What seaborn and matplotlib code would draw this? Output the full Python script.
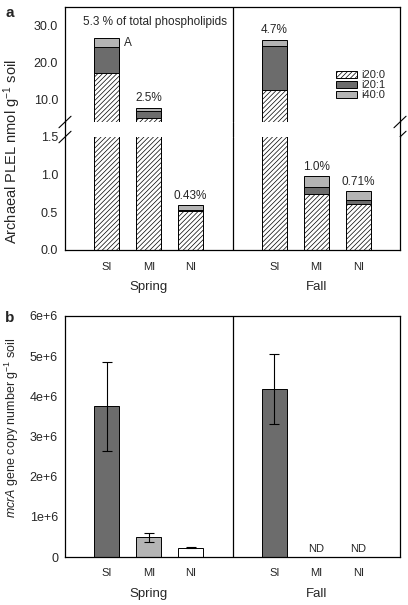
"""Archaeal PLEL (stacked bars, broken y axis) and mcrA gene copies per site and season."""

import matplotlib
matplotlib.use("Agg")

import matplotlib.pyplot as plt
from matplotlib.patches import Patch
import numpy as np
import seaborn as sns


SITES = ["SI", "MI", "NI"]
SEASONS = ["Spring", "Fall"]
X_POS = [1, 2, 3, 5, 6, 7]
SEASON_POS = [2, 6]
DIVIDER = 4

# panel a: archaeal PLEL, nmol g-1 soil (stacked components)
I20_0 = [17.0, 4.9, 0.52, 12.4, 0.74, 0.61]
I20_1 = [7.0, 1.9, 0.012, 11.9, 0.09, 0.055]
I40_0 = [2.6, 0.8, 0.06, 1.8, 0.15, 0.115]
PCT_LABELS = ["", "2.5%", "0.43%", "4.7%", "1.0%", "0.71%"]
UPPER_TICKS = [10, 20, 30]
LOWER_TICKS = [0, 0.5, 1.0, 1.5]

# panel b: mcrA gene copy number g-1 soil
MCRA = [3.75e6, 0.49e6, 0.23e6, 4.18e6]
MCRA_ERR = [1.1e6, 0.11e6, 0.012e6, 0.88e6]
MCRA_POS = [1, 2, 3, 5]
ND_POS = [6, 7]
B_TICKS = [0, 1e6, 2e6, 3e6, 4e6, 5e6, 6e6]
B_TICK_LABELS = ["0", "1e+6", "2e+6", "3e+6", "4e+6", "5e+6", "6e+6"]

DARK = "#6c6c6c"
LIGHT = "#b4b4b4"
HATCH = "///////"
BAR_W = 0.6
W, H = 408, 605


def px_box(left, top, right, bottom):
    """Axes rectangle from pixel edges."""
    return [left / W, 1 - bottom / H, (right - left) / W, (bottom - top) / H]


def draw_stack(ax):
    mid = np.add(I20_0, I20_1)
    top = mid + np.array(I40_0)
    common = dict(native_scale=True, orient="x", width=BAR_W, saturation=1,
                  edgecolor="black", linewidth=0.7, ax=ax)
    sns.barplot(x=X_POS, y=top, color=LIGHT, **common)
    sns.barplot(x=X_POS, y=mid, color=DARK, **common)
    sns.barplot(x=X_POS, y=I20_0, color="white", hatch=HATCH, **common)
    return top


def style_axis(ax):
    ax.set_xlim(0, 8)
    ax.axvline(DIVIDER, color="black", lw=0.9)
    for side in ["left", "right", "top", "bottom"]:
        ax.spines[side].set_linewidth(0.9)
        ax.spines[side].set_color("black")
    ax.tick_params(axis="y", direction="out", length=3, width=0.8, labelsize=9, pad=2)
    ax.set_ylabel("")
    ax.set_xlabel("")


def bottom_labels(ax, pad):
    ax.set_xticks(X_POS)
    ax.set_xticklabels(SITES * 2)
    ax.tick_params(axis="x", length=0, labelsize=8, pad=pad)
    for pos, season in zip(SEASON_POS, SEASONS):
        ax.annotate(season, xy=(pos, 0), xycoords=("data", "axes fraction"),
                    xytext=(0, -22.5), textcoords="offset points",
                    ha="center", va="top", fontsize=9.5)


def main():
    sns.set_theme(style="white")
    plt.rcParams["font.family"] = ["Liberation Sans", "DejaVu Sans"]
    plt.rcParams["hatch.linewidth"] = 0.5
    plt.rcParams["mathtext.fontset"] = "custom"
    plt.rcParams["mathtext.rm"] = "Liberation Sans"
    plt.rcParams["mathtext.it"] = "Liberation Sans:italic"

    fig = plt.figure(figsize=(W / 100, H / 100), dpi=100)
    fig.patch.set_facecolor("white")

    ax_up = fig.add_axes(px_box(65, 7, 400, 122))
    ax_lo = fig.add_axes(px_box(65, 137, 400, 250))
    ax_b = fig.add_axes(px_box(65, 316, 400, 557))

    # ---- panel a, upper part of broken axis
    top = draw_stack(ax_up)
    style_axis(ax_up)
    ax_up.set_ylim(3.8, 34.9)
    ax_up.set_yticks(UPPER_TICKS)
    ax_up.set_yticklabels([f"{t:.1f}" for t in UPPER_TICKS])
    ax_up.set_xticks([])
    ax_up.spines["bottom"].set_visible(False)

    # ---- panel a, lower part
    draw_stack(ax_lo)
    style_axis(ax_lo)
    ax_lo.set_ylim(0, 1.5)
    ax_lo.set_yticks(LOWER_TICKS)
    ax_lo.set_yticklabels([f"{t:.1f}" for t in LOWER_TICKS])
    ax_lo.spines["top"].set_visible(False)
    bottom_labels(ax_lo, pad=9)

    # spines and divider run through the gap; slash marks for the break
    gap = 15 / 115
    for xa in [0, 1]:
        ax_up.plot([xa, xa], [0, -gap], transform=ax_up.transAxes,
                   color="black", lw=0.9, clip_on=False)
    ax_up.plot([DIVIDER, DIVIDER], [0, -gap], transform=ax_up.get_xaxis_transform(),
               color="black", lw=0.9, clip_on=False)
    for xa in [0, 1]:
        for ya in [0, -gap]:
            ax_up.plot([xa - 0.018, xa + 0.018], [ya - 0.05, ya + 0.05],
                       transform=ax_up.transAxes, color="black", lw=0.8, clip_on=False)

    # percentage labels
    for i, (pos, lab) in enumerate(zip(X_POS, PCT_LABELS)):
        if not lab:
            continue
        target = ax_up if top[i] > 3.8 else ax_lo
        target.annotate(lab, xy=(pos, top[i]), xytext=(0, 2.5), textcoords="offset points",
                        ha="center", va="bottom", fontsize=8.5)
    ax_up.text(0.42, 30.8, "5.3 % of total phospholipids", ha="left", va="center", fontsize=8.5)
    ax_up.text(1.42, 25.1, "A", ha="left", va="center", fontsize=8.5)

    handles = [Patch(facecolor="white", edgecolor="black", hatch=HATCH, lw=0.7),
               Patch(facecolor=DARK, edgecolor="black", lw=0.7),
               Patch(facecolor=LIGHT, edgecolor="black", lw=0.7)]
    ax_up.legend(handles, ["i20:0", "i20:1", "i40:0"], loc="upper left",
                 bbox_to_anchor=(0.81, 0.45), frameon=False, fontsize=8,
                 handlelength=1.9, handleheight=0.55, handletextpad=0.3,
                 labelspacing=0.0, borderpad=0, borderaxespad=0)

    fig.text(12 / W, 1 - 152 / H, "Archaeal PLEL nmol g$^{-1}$ soil", rotation=90,
             ha="center", va="center", fontsize=10.5)
    fig.text(10 / W, 1 - 13 / H, "a", ha="center", va="center", fontsize=11, fontweight="bold")

    # ---- panel b
    sns.barplot(x=MCRA_POS, y=MCRA, hue=SITES + SITES[:1], palette=[DARK, LIGHT, "white"],
                native_scale=True, orient="x", width=BAR_W, saturation=1, dodge=False,
                edgecolor="black", linewidth=0.7, legend=False, ax=ax_b)
    ax_b.errorbar(MCRA_POS, MCRA, yerr=MCRA_ERR, fmt="none", ecolor="black",
                  elinewidth=0.8, capsize=3.5, capthick=0.8)
    for pos in ND_POS:
        ax_b.text(pos, 0.2e6, "ND", ha="center", va="center", fontsize=8)
    style_axis(ax_b)
    ax_b.set_ylim(0, 6e6)
    ax_b.set_yticks(B_TICKS)
    ax_b.set_yticklabels(B_TICK_LABELS)
    bottom_labels(ax_b, pad=8)

    fig.text(12 / W, 1 - 428 / H, r"$\it{mcrA}$ gene copy number g$^{-1}$ soil",
             rotation=90, ha="center", va="center", fontsize=9)
    fig.text(10 / W, 1 - 318 / H, "b", ha="center", va="center", fontsize=11, fontweight="bold")

    fig.savefig("out.png", dpi=100, facecolor="white")
    plt.close(fig)


if __name__ == "__main__":
    main()
